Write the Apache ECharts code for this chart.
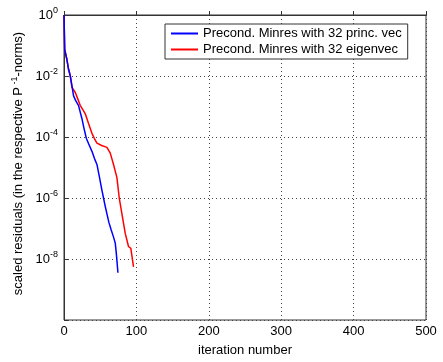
<!DOCTYPE html>
<html><head><meta charset="utf-8">
<script src="https://cdn.jsdelivr.net/npm/echarts@6/dist/echarts.min.js"></script>
<style>html,body{margin:0;padding:0;background:#fff}#c{width:443px;height:362px}</style>
</head><body><div id="c"></div>
<script>
const seriesNames = ['Precond. Minres with 32 princ. vec', 'Precond. Minres with 32 eigenvec'];
const blueIter = [0, 1, 4, 6.3, 8.7, 11, 13.2, 16, 20.1, 24.8, 27, 30.8, 34, 38.6, 42, 45.5, 49.1, 52, 54.6, 57, 59.3, 62, 65.2, 68, 70.8, 72, 73, 74.5];
const blueLog10 = [0, -1.14, -1.46, -1.78, -2.0, -2.32, -2.65, -2.8, -2.97, -3.4, -3.65, -4.04, -4.22, -4.47, -4.7, -4.9, -5.33, -5.7, -6.0, -6.28, -6.52, -6.8, -7.05, -7.25, -7.48, -7.75, -8.02, -8.45];
const redIter = [0, 1, 4, 6.3, 8.7, 11, 15.6, 19, 22.5, 26, 29.4, 33.9, 38.6, 42, 45.5, 52, 59.3, 63.9, 68.4, 73.1, 76.3, 80, 84.6, 89.1, 92.3, 96];
const redLog10 = [0, -1.14, -1.46, -1.78, -2.0, -2.37, -2.54, -2.75, -2.97, -3.1, -3.24, -3.56, -3.88, -4.05, -4.2, -4.28, -4.34, -4.53, -4.9, -5.33, -6.0, -6.52, -7.16, -7.59, -7.65, -8.26];
const xTicks = [0, 100, 200, 300, 400, 500];
const yTickExps = [-10, -8, -6, -4, -2, 0];

const toPts = (xs, ls) => xs.map((x, i) => [x, ls[i]]);
const chart = echarts.init(document.getElementById('c'), null, {renderer: 'canvas'});
const font = 'Liberation Sans, Arial, Helvetica, sans-serif';
const gridStyle = {color: '#444', type: [1, 3], width: 1};
chart.setOption({
  animation: false,
  grid: {left: 64, right: 17, top: 15, bottom: 37, show: true, borderColor: '#333', borderWidth: 1},
  legend: {
    orient: 'vertical', left: 165, top: 24, itemWidth: 27, itemHeight: 2, itemGap: 3, icon: 'rect',
    padding: [3, 6, 3, 6], borderColor: '#333', borderWidth: 1, backgroundColor: '#fff',
    textStyle: {fontFamily: font, fontSize: 13, color: '#000'},
    data: seriesNames
  },
  xAxis: {
    type: 'value', min: xTicks[0], max: xTicks[xTicks.length - 1], interval: 100,
    name: 'iteration number', nameLocation: 'middle', nameGap: 24,
    nameTextStyle: {fontFamily: font, fontSize: 13, color: '#000'},
    axisLine: {lineStyle: {color: '#333'}},
    axisTick: {inside: true, length: 4, lineStyle: {color: '#333'}},
    axisLabel: {fontFamily: font, fontSize: 13, color: '#000', margin: 5},
    splitLine: {show: true, lineStyle: gridStyle}
  },
  yAxis: {
    type: 'value', min: yTickExps[0], max: yTickExps[yTickExps.length - 1], interval: 2,
    name: '{t|scaled residuals (in the respective P}{s| -1}{t|-norms)}', nameLocation: 'middle', nameGap: 32,
    nameTextStyle: {padding: [0, 0, 0, 8], rich: {t: {fontFamily: font, fontSize: 13, color: '#000'}, s: {fontFamily: font, fontSize: 9, color: '#000', verticalAlign: 'top', padding: [0, 0, 7, 0]}}},
    axisLine: {lineStyle: {color: '#333'}},
    axisTick: {inside: true, length: 4, lineStyle: {color: '#333'}},
    axisLabel: {
      margin: 6,
      formatter: v => (v === yTickExps[0] ? '' : '{b|10}{s|' + v + '}'),
      rich: {b: {fontFamily: font, fontSize: 13, color: '#000'}, s: {fontFamily: font, fontSize: 9, color: '#000', verticalAlign: 'top', padding: [0, 0, 8, 0]}}
    },
    splitLine: {show: true, lineStyle: gridStyle}
  },
  series: [
    {name: seriesNames[0], type: 'line', symbol: 'none', data: toPts(blueIter, blueLog10), lineStyle: {color: '#0000ff', width: 1.5}, itemStyle: {color: '#0000ff'}, z: 3},
    {name: seriesNames[1], type: 'line', symbol: 'none', data: toPts(redIter, redLog10), lineStyle: {color: '#ff0000', width: 1.5}, itemStyle: {color: '#ff0000'}, z: 2}
  ]
});
</script></body></html>
